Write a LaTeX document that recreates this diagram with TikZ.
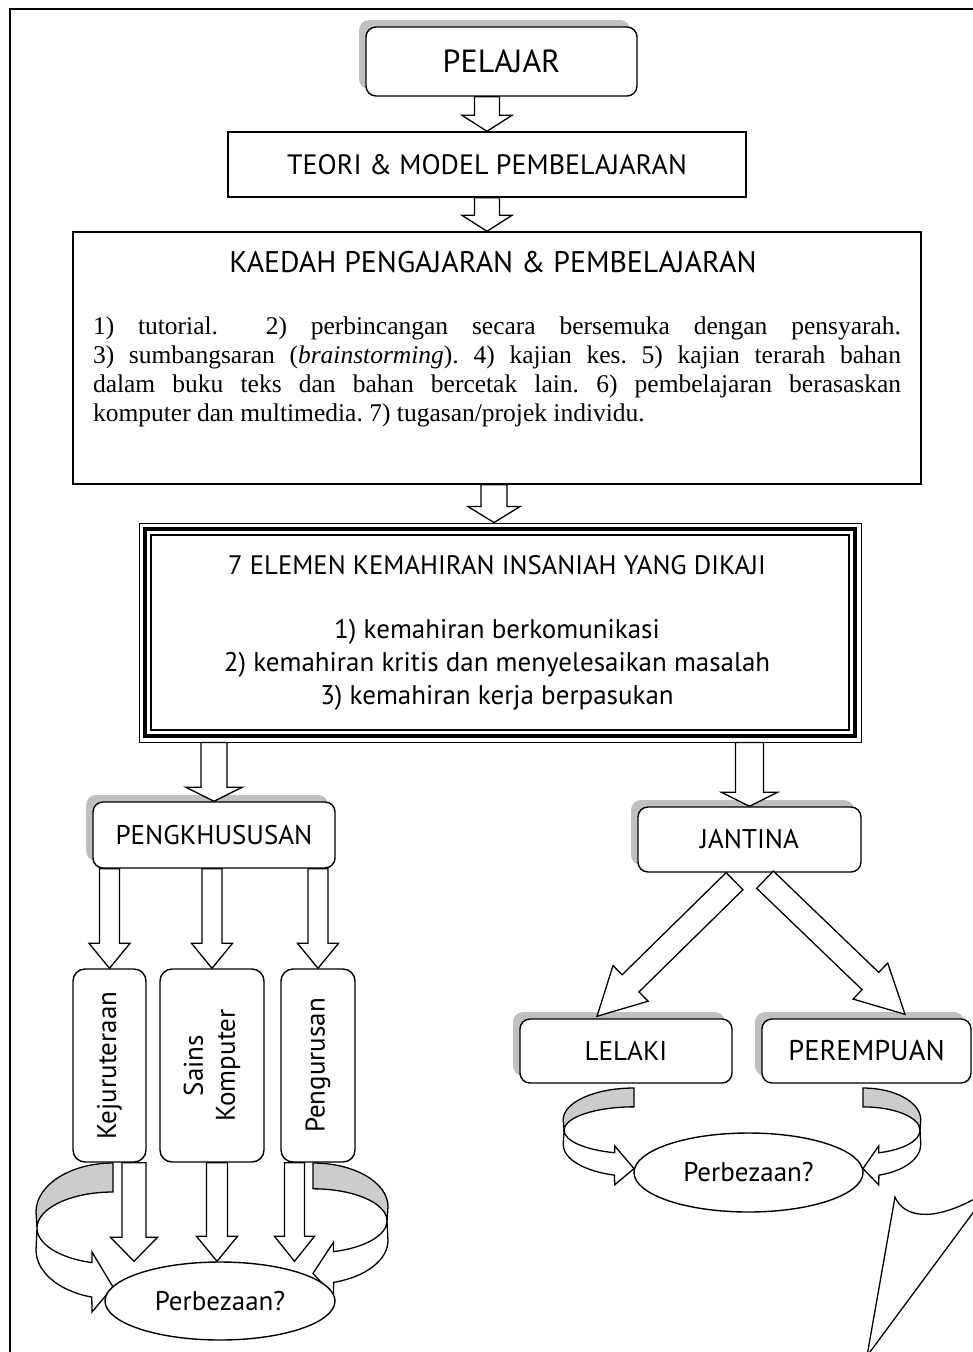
\documentclass[tikz,border=0pt]{standalone}
\usepackage{fontspec}
\setmainfont{Liberation Serif}
\newfontfamily\sansf{PT Sans}
\usetikzlibrary{calc, positioning, shapes.geometric, shadows}

\definecolor{shadowgray}{RGB}{192,192,192}
\definecolor{backgray}{RGB}{204,204,204}

% hollow block arrow: from, to, shaft half width, head half width, head length
\newcommand{\blockarrow}[5]{%
  \coordinate (ba-s) at #1;
  \coordinate (ba-e) at #2;
  \coordinate (ba-h) at ($(ba-e)!#5!(ba-s)$);
  \draw[hollow] ($(ba-s)!#3!90:(ba-e)$) -- ($(ba-h)!#3!-90:(ba-s)$) -- ($(ba-h)!#4!-90:(ba-s)$)
    -- (ba-e) -- ($(ba-h)!#4!90:(ba-s)$) -- ($(ba-h)!#3!90:(ba-s)$) -- ($(ba-s)!#3!-90:(ba-e)$) -- cycle;
}

\tikzset{
  turnarrow/.pic={
    \filldraw[fill=backgray, line width=1.3pt] (0,0) arc[start angle=270, end angle=180, x radius=77, y radius=49]
      -- (-76,65) arc[start angle=180, end angle=270, x radius=76, y radius=36] -- cycle;
    \filldraw[fill=white, line width=1.3pt, line join=miter] (-76,65) arc[start angle=180, end angle=106, x radius=76, y radius=36]
      -- (-21,89) -- (0,124) -- (-21,149) -- (-21.2,134.1) arc[start angle=106, end angle=180, x radius=77, y radius=49] -- cycle;
  }
}

\begin{document}
\begin{tikzpicture}[x=1pt, y=-1pt,
    sqbox/.style={draw, line width=1.4pt, fill=white, inner sep=0pt},
    rbox/.style={draw, rounded corners=10pt, line width=1.4pt, fill=white, inner sep=0pt, font=\lblfont},
    shbox/.style={rbox, drop shadow={shadow xshift=-7pt, shadow yshift=7pt, fill=shadowgray, opacity=1}},
    vbox/.style={draw, rounded corners=12pt, line width=1.4pt, fill=white, inner sep=0pt, minimum height=193pt},
    vtext/.style={rotate=90, font=\lblfont, inner sep=0pt},
    beza/.style={ellipse, draw, line width=1.4pt, fill=white, inner sep=0pt, font=\lblfont},
    head/.style={font=\sansf\fontsize{28}{33}\selectfont, inner sep=0pt},
    items/.style={font=\sansf\fontsize{27}{33}\selectfont, align=center, inner sep=0pt},
    paratext/.style={font=\fontsize{25.5}{29}\selectfont, text width=808pt, align=justify, inner sep=0pt},
    hollow/.style={draw, fill=white, line width=1.3pt, line join=miter}
]
\newcommand{\lblfont}{\sansf\fontsize{27}{32}\selectfont}
\useasboundingbox (0,0) rectangle (972,1352);

% Frame
\draw[line width=2.2pt] (10,1360) -- (10,9) -- (980,9);

% Top boxes
\node[shbox, minimum width=271pt, minimum height=69pt, font=\sansf\fontsize{32}{36}\selectfont] (pelajar) at (501.5,61.5) {PELAJAR};
\node[sqbox, head, minimum width=518pt, minimum height=65pt] (teori) at (487,164.5) {TEORI \& MODEL PEMBELAJARAN};
\node[sqbox, minimum width=848pt, minimum height=252pt] (kaedah) at (497,358) {};
\node[head, font=\sansf\fontsize{29.8}{34}\selectfont] (kaedahtitle) at (493,262) {KAEDAH PENGAJARAN \& PEMBELAJARAN};
\node[paratext] (kaedahtext) at (497,372) {\frenchspacing\spaceskip=6.4pt plus 20pt minus 1pt\hyphenpenalty=10000
  1) tutorial.\ \ 2) perbincangan secara bersemuka dengan pensyarah.\linebreak
  3) sumbangsaran (\textit{brainstorming}). 4) kajian kes. 5) kajian terarah bahan\linebreak
  dalam buku teks dan bahan bercetak lain. 6) pembelajaran berasaskan\linebreak
  komputer dan multimedia. 7) tugasan/projek individu.};

% Elements box with triple border
\node[sqbox, line width=0.9pt, minimum width=722pt, minimum height=219pt] (elemen) at (500,632.5) {};
\draw[line width=4pt] ($(elemen.north west)+(6,6)$) rectangle ($(elemen.south east)+(-6,-6)$);
\draw[line width=2pt] ($(elemen.north west)+(12.8,12.8)$) rectangle ($(elemen.south east)+(-12.8,-12.8)$);
\node[head, font=\sansf\fontsize{26.7}{32}\selectfont] (elementitle) at (497,565) {7 ELEMEN KEMAHIRAN INSANIAH YANG DIKAJI};
\node[items] (elemenitems) at (497,665) {1) kemahiran berkomunikasi\\2) kemahiran kritis dan menyelesaikan masalah\\3) kemahiran kerja berpasukan};

% Left branch
\node[shbox, minimum width=242pt, minimum height=66pt] (khusus) at (214,835) {PENGKHUSUSAN};
\node[vbox, minimum width=73pt] (kej) at (109.5,1065.5) {};
\node[vbox, minimum width=104pt] (sains) at (212,1065.5) {};
\node[vbox, minimum width=74pt] (urus) at (318,1065.5) {};
\node[vtext] (kejtext) at (kej) {Kejuruteraan};
\node[vtext, align=center] (sainstext) at (sains) {Sains\\Komputer};
\node[vtext] (urustext) at (urus) {Pengurusan};

% Right branch
\node[shbox, minimum width=223pt, minimum height=65pt] (jantina) at (749.5,839.5) {JANTINA};
\node[shbox, minimum width=212pt, minimum height=64pt] (lelaki) at (626,1051) {LELAKI};
\node[shbox, minimum width=209pt, minimum height=64pt, font=\sansf\fontsize{28.5}{32}\selectfont] (perempuan) at (866.5,1051) {PEREMPUAN};

% Curved arrows
\pic at (113,1163) {turnarrow};
\pic[xscale=-0.974, yscale=0.89] at (313,1163) {turnarrow};
\pic[xscale=0.92, yscale=0.65] at (634,1088) {turnarrow};
\pic[xscale=-0.75, yscale=0.65] at (863,1088) {turnarrow};

% Differences
\node[beza, minimum width=230pt, minimum height=78pt] (beza1) at (220,1301) {Perbezaan?};
\node[beza, minimum width=229pt, minimum height=79pt] (beza2) at (748.5,1172.5) {Perbezaan?};

% Block arrows
\blockarrow{(pelajar.south -| teori.north)}{(teori.north)}{12.5pt}{25pt}{16pt}
\blockarrow{(teori.south)}{(teori.south |- kaedah.north)}{12.5pt}{25pt}{16pt}
\blockarrow{([xshift=-3pt]kaedah.south)}{([xshift=-6pt]elemen.north)}{13pt}{26pt}{16pt}
\blockarrow{(elemen.south -| khusus.north)}{(khusus.north)}{13pt}{28pt}{14pt}
\blockarrow{(elemen.south -| jantina.north)}{(jantina.north)}{14pt}{28pt}{14pt}
\blockarrow{(khusus.south -| kej.north)}{(kej.north)}{10pt}{20.5pt}{25pt}
\blockarrow{(khusus.south -| sains.north)}{(sains.north)}{10pt}{20.5pt}{25pt}
\blockarrow{(khusus.south -| urus.north)}{(urus.north)}{10pt}{20.5pt}{25pt}
\coordinate (kejout) at ([xshift=24.5pt]kej.south);
\coordinate (sainsout) at ([xshift=5pt]sains.south);
\coordinate (urusout) at ([xshift=-23.5pt]urus.south);
\blockarrow{(kejout)}{(kejout |- beza1.north)}{12pt}{23.5pt}{24pt}
\blockarrow{(sainsout)}{(sainsout |- beza1.north)}{10.5pt}{20.5pt}{25pt}
\blockarrow{(urusout)}{(urusout |- beza1.north)}{10pt}{20pt}{25pt}
\blockarrow{([xshift=-15pt,yshift=-8.5pt]jantina.south)}{([xshift=-29pt,yshift=2pt]lelaki.north)}{12pt}{25pt}{47pt}
\blockarrow{([xshift=15.5pt,yshift=-7pt]jantina.south)}{([xshift=38.5pt,yshift=4pt]perempuan.north)}{12pt}{25pt}{48pt}

% Callout tail
\draw[line width=1.3pt, fill=white] (867,1356) -- (895,1197) .. controls (903,1216) and (930,1224) .. (978,1197) -- (978,1206) -- cycle;

\end{tikzpicture}
\end{document}
